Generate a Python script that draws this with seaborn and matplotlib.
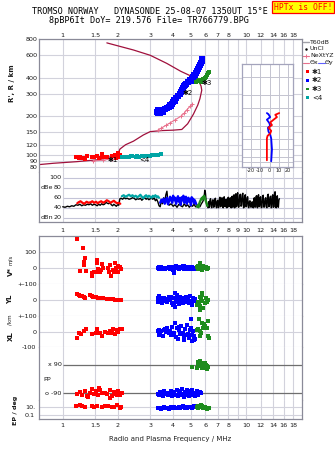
import matplotlib
matplotlib.use("Agg")
import matplotlib.pyplot as plt
import seaborn as sns
from matplotlib.ticker import NullLocator
from matplotlib.patches import Rectangle
import matplotlib.transforms as mtransforms

# ---------------- data ----------------
freq_ticks = [1, 1.5, 2, 3, 4, 5, 6, 7, 8, 9, 10, 12, 14, 16, 18]
freq_labels_top = ["1", "1.5", "2", "3", "4", "5", "6", "7", "8", "", "10", "12", "14", "16", "18"]
freq_labels_db = ["1", "1.5", "2", "3", "4", "5", "6", "7", "8", "9", "10", "12", "14", "16", "18"]
height_ticks = [80, 90, 100, 120, 150, 200, 300, 400, 600, 800]
tilt_ticks = [-20, -10, 0, 10, 20]

# electron density profile (plasma frequency MHz, height km)
profile = [(0.745, 84), (0.89, 86), (1.19, 88.5), (1.60, 92), (1.89, 98), (2.01, 103), (2.05, 111),
           (2.20, 120), (2.43, 128), (2.75, 143), (3.00, 152), (3.50, 155), (4.00, 156), (4.46, 158),
           (4.80, 175), (5.16, 208), (5.45, 245), (5.60, 275), (5.73, 320), (5.68, 345), (5.55, 370),
           (5.38, 392), (5.06, 410), (4.40, 450), (3.69, 519), (3.00, 600), (2.43, 660), (1.74, 750)]
nexyz_e = [(1.47, 89.6), (1.66, 91), (1.85, 93)]
nexyz_f = [(3.30, 156), (3.45, 162), (3.65, 170), (3.85, 178), (4.10, 188), (4.40, 200), (4.60, 212),
           (4.75, 225), (4.95, 240), (5.10, 250)]

# echoes: frequency MHz, virtual range km
echo1 = [(1.18, 95.7), (1.22, 93.9), (1.24, 96.9), (1.285, 95.1), (1.32, 93.3), (1.36, 98.1), (1.44, 95.7),
         (1.48, 96.9), (1.53, 98.1), (1.58, 95.1), (1.63, 101.6), (1.66, 96.9), (1.75, 96.9), (1.85, 98.1),
         (1.93, 99.8), (1.95, 93.9), (2.01, 101.6), (2.04, 96.9), (1.99, 104), (2.06, 100)]
echo4 = [(2.10, 97), (2.15, 96.5), (2.20, 96.5), (2.25, 97), (2.30, 97), (2.35, 97.5), (2.40, 97.5),
         (2.50, 97), (2.55, 97.5), (2.60, 97), (2.70, 98), (2.75, 97.5), (2.80, 98), (2.90, 98), (3.00, 98.5),
         (3.05, 99), (3.10, 99), (3.20, 99.5), (3.30, 100), (3.45, 102)]
echo2 = [(3.27, 216), (3.31, 212), (3.35, 212), (3.40, 212), (3.53, 216), (3.31, 224), (3.40, 224),
         (3.61, 228), (3.71, 232), (3.80, 237), (3.90, 241), (3.95, 250), (4.00, 259), (4.05, 268),
         (4.15, 278), (4.26, 288), (4.36, 299), (4.42, 310), (4.48, 321), (4.53, 333), (4.59, 345),
         (4.71, 358), (4.83, 371), (4.95, 385), (5.08, 392), (5.14, 406), (5.20, 421), (5.34, 436),
         (5.40, 452), (5.47, 469), (5.54, 486), (5.61, 504), (5.68, 522), (5.75, 541), (5.75, 561),
         (3.45, 218), (3.85, 245), (4.10, 262), (4.62, 350), (5.02, 380), (5.25, 400)]
echo3 = [(5.34, 371), (5.47, 378), (5.61, 378), (5.75, 385), (5.90, 392), (5.98, 399), (6.06, 406),
         (6.14, 421), (6.22, 436), (6.30, 444), (5.54, 385), (5.68, 371), (5.82, 392)]

# tilt inset (deg, km)
tilt1 = [(-2.8, 93), (-2.8, 152), (-2.1, 161), (0.7, 169), (1.8, 180), (-1.1, 193), (2.6, 205), (0.7, 217),
         (4.3, 231), (7.9, 245), (6.1, 258), (10.3, 268)]
tilt2 = [(1.8, 91), (2.6, 119), (1.8, 152), (0.7, 166), (-1.1, 177), (-1.7, 193), (0.7, 202), (-0.3, 215),
         (-2.8, 231), (0.7, 245), (-1.1, 261), (-2.8, 268)]

# amplitude panel (MHz, dB)
amp_all = [(1.00, 42), (1.03, 41), (1.06, 43), (1.09, 42), (1.12, 44), (1.15, 43), (1.18, 46), (1.21, 45),
           (1.24, 47), (1.27, 44), (1.30, 46), (1.33, 45), (1.36, 47), (1.39, 46), (1.42, 48), (1.45, 45),
           (1.48, 47), (1.51, 46), (1.54, 44), (1.57, 47), (1.60, 45), (1.63, 48), (1.66, 46), (1.69, 47),
           (1.72, 51), (1.75, 49), (1.78, 48), (1.81, 50), (1.84, 46), (1.87, 44), (1.90, 47), (1.93, 45),
           (1.96, 43), (1.99, 46), (2.02, 45), (2.05, 58), (2.08, 59), (2.12, 57), (2.16, 60), (2.20, 58),
           (2.25, 59), (2.30, 57), (2.35, 58), (2.40, 60), (2.45, 59), (2.50, 56), (2.55, 58), (2.60, 57),
           (2.65, 59), (2.70, 55), (2.75, 58), (2.80, 60), (2.85, 57), (2.90, 59), (2.95, 56), (3.00, 58),
           (3.05, 59), (3.10, 57), (3.15, 60), (3.20, 54), (3.25, 57), (3.30, 52), (3.35, 44), (3.40, 42),
           (3.45, 55), (3.50, 48), (3.55, 60), (3.60, 52), (3.65, 66), (3.70, 73), (3.75, 50), (3.80, 45),
           (3.90, 48), (4.00, 43), (4.10, 46), (4.20, 41), (4.30, 47), (4.40, 44), (4.50, 42), (4.60, 48),
           (4.70, 43), (4.80, 46), (4.90, 41), (5.00, 45), (5.10, 43), (5.20, 47), (5.30, 42), (5.40, 44),
           (5.50, 45), (5.60, 42), (5.70, 48), (5.80, 52), (5.90, 60), (5.95, 75), (6.00, 70), (6.05, 55),
           (6.10, 45), (6.20, 40), (6.25, 52), (6.30, 41), (6.35, 55), (6.40, 58), (6.45, 42), (6.50, 40),
           (6.55, 54), (6.60, 56), (6.65, 41), (6.70, 42), (6.75, 57), (6.80, 59), (6.85, 43), (6.90, 40),
           (6.95, 53), (7.00, 55), (7.05, 40), (7.10, 41), (7.15, 58), (7.20, 61), (7.25, 42), (7.30, 43),
           (7.35, 59), (7.40, 60), (7.45, 41), (7.50, 40), (7.55, 60), (7.60, 62), (7.65, 43), (7.70, 42),
           (7.75, 56), (7.80, 57), (7.85, 40), (7.90, 41), (7.95, 59), (8.00, 61), (8.05, 42), (8.10, 43),
           (8.15, 58), (8.20, 60), (8.25, 41), (8.30, 40), (8.35, 62), (8.40, 63), (8.45, 41), (8.50, 42),
           (8.55, 64), (8.60, 66), (8.65, 40), (8.70, 41), (8.75, 65), (8.80, 68), (8.85, 42), (8.90, 44),
           (8.95, 67), (9.00, 70), (9.08, 41), (9.15, 42), (9.22, 64), (9.30, 67), (9.38, 43), (9.45, 45),
           (9.52, 66), (9.60, 69), (9.68, 40), (9.75, 41), (9.82, 63), (9.90, 66), (9.98, 42), (10.05, 43),
           (10.12, 60), (10.20, 62), (10.28, 41), (10.35, 40), (10.42, 52), (10.50, 54), (10.58, 42),
           (10.65, 41), (10.72, 50), (10.80, 52), (10.88, 41), (10.95, 40), (11.02, 58), (11.10, 60),
           (11.18, 41), (11.25, 42), (11.32, 62), (11.40, 64), (11.48, 41), (11.55, 40), (11.62, 64),
           (11.70, 66), (11.78, 42), (11.85, 43), (11.92, 60), (12.00, 62), (12.10, 40), (12.20, 41),
           (12.30, 63), (12.40, 65), (12.50, 41), (12.60, 42), (12.70, 58), (12.80, 60), (12.90, 41),
           (13.00, 40), (13.10, 65), (13.20, 67), (13.30, 42), (13.40, 43), (13.50, 61), (13.60, 63),
           (13.70, 40), (13.80, 41), (13.90, 64), (14.00, 66), (14.10, 41), (14.20, 42), (14.30, 70),
           (14.40, 72), (14.50, 41), (14.60, 40), (14.70, 62), (14.80, 64), (14.90, 42), (15.00, 41),
           (15.10, 56), (15.20, 58)]
amp1 = [(1.20, 49), (1.22, 51), (1.25, 53), (1.28, 50), (1.31, 48), (1.35, 52), (1.38, 50), (1.42, 51),
        (1.45, 53), (1.48, 50), (1.52, 52), (1.55, 49), (1.58, 51), (1.62, 53), (1.66, 50), (1.70, 52),
        (1.74, 55), (1.78, 53), (1.82, 50), (1.86, 52), (1.90, 54), (1.94, 51), (1.98, 49), (2.02, 50),
        (2.06, 48)]
amp4 = [(2.10, 63), (2.15, 65), (2.20, 62), (2.25, 64), (2.30, 66), (2.35, 63), (2.40, 65), (2.45, 62),
        (2.50, 64), (2.55, 61), (2.60, 63), (2.65, 66), (2.70, 62), (2.75, 59), (2.80, 63), (2.85, 65),
        (2.90, 61), (2.95, 64), (3.00, 62), (3.05, 60), (3.10, 64), (3.15, 62), (3.20, 65), (3.25, 61),
        (3.30, 63), (3.35, 60)]
amp2 = [(3.40, 50), (3.45, 56), (3.50, 52), (3.55, 58), (3.60, 48), (3.65, 55), (3.70, 60), (3.75, 47),
        (3.80, 53), (3.85, 62), (3.90, 57), (3.95, 50), (4.00, 64), (4.05, 55), (4.10, 60), (4.15, 48),
        (4.20, 57), (4.25, 63), (4.30, 52), (4.35, 59), (4.40, 46), (4.45, 61), (4.50, 55), (4.55, 64),
        (4.60, 50), (4.65, 58), (4.70, 62), (4.75, 48), (4.80, 56), (4.85, 60), (4.90, 52), (4.95, 57),
        (5.00, 45), (5.05, 61), (5.10, 54), (5.15, 58), (5.20, 49), (5.25, 55), (5.30, 51), (5.35, 47)]
amp3 = [(5.40, 42), (5.45, 45), (5.50, 41), (5.55, 48), (5.60, 52), (5.65, 55), (5.70, 58), (5.75, 60),
        (5.80, 57), (5.85, 62), (5.90, 64), (5.95, 60), (6.00, 56), (6.05, 52), (6.10, 48), (6.15, 44)]

# Doppler velocity V* (m/s)
vel1 = [(1.20, 185), (1.285, 129), (1.32, 66), (1.30, 40), (1.30, 21), (1.24, -17), (1.34, -17), (1.44, -34),
        (1.44, -51), (1.53, 51), (1.54, 30), (1.52, -23), (1.48, -28), (1.55, -8), (1.63, 23), (1.66, 2),
        (1.62, -13), (1.77, -2), (1.81, 19), (1.79, -28), (1.83, -51), (1.93, 30), (1.95, -2), (1.91, -23),
        (1.99, 13), (2.06, 4), (2.09, -8), (2.00, -28), (1.87, -13), (1.60, -26)]
vel2 = [(3.30, 0), (3.33, -5), (3.36, 4), (3.40, -2), (3.45, 6), (3.50, -3), (3.55, 1), (3.60, -6), (3.66, 3),
        (3.72, -1), (3.78, 5), (3.84, -4), (3.90, 2), (3.96, 8), (4.02, -7), (4.08, 0), (4.14, 10), (4.20, -3),
        (4.26, 4), (4.32, -9), (4.38, 6), (4.44, -2), (4.50, 12), (4.56, -5), (4.62, 3), (4.68, -8), (4.74, 1),
        (4.80, 7), (4.86, -4), (4.92, 2), (4.98, -6), (5.04, 5), (5.10, -2), (5.16, 0), (5.22, 3), (5.28, -4),
        (4.06, -34), (4.60, 14), (3.50, -8), (4.00, -12)]
vel3 = [(5.40, 5), (5.45, -8), (5.50, 12), (5.55, 3), (5.60, 30), (5.62, 18), (5.65, -5), (5.70, 8),
        (5.75, -10), (5.80, 2), (5.85, 10), (5.90, -3), (5.95, 6), (6.00, 0), (6.05, 4), (6.10, -6),
        (6.15, 2), (6.20, -2)]

# YL location (km)
yl1 = [(1.20, 34), (1.22, 30), (1.24, 25), (1.28, 22), (1.30, 19), (1.32, 13), (1.40, 28), (1.44, 25),
       (1.46, 18), (1.52, 20), (1.55, 10), (1.58, 12), (1.63, 8), (1.66, 10), (1.75, 5), (1.79, 3),
       (1.83, 6), (1.88, 2), (1.93, 0), (1.97, -1), (2.01, 0), (2.05, -2), (2.09, -1)]
yl2 = [(3.30, 10), (3.32, -15), (3.35, 25), (3.38, -5), (3.42, 8), (3.46, -18), (3.50, 3), (3.55, 12),
       (3.60, -8), (3.66, 5), (3.72, -12), (3.78, 15), (3.84, -3), (3.90, 20), (3.96, -22), (4.02, 8),
       (4.06, -30), (4.10, 44), (4.14, -15), (4.18, 30), (4.22, -10), (4.26, 5), (4.30, -25), (4.36, 18),
       (4.42, -5), (4.48, 10), (4.54, -20), (4.60, 12), (4.66, -8), (4.72, 15), (4.78, -12), (4.84, 6),
       (4.90, -18), (4.96, 22), (5.02, -5), (5.08, -30), (5.14, 8), (5.20, -10), (5.26, 3), (4.12, -48),
       (4.00, -33)]
yl3 = [(5.73, 44), (5.60, 19), (5.49, -13), (5.60, -40), (5.84, -54), (6.15, -6), (6.23, 0), (5.38, -33),
       (5.60, -64), (5.73, 29), (5.66, 5), (5.95, -20), (6.05, 10), (5.52, -25), (5.78, -8), (6.10, -15)]

# XL location (km)
xl1 = [(1.20, -41), (1.22, -9), (1.30, 2), (1.34, 13), (1.44, -19), (1.53, 13), (1.52, -9), (1.60, -9),
       (1.63, -26), (1.77, -9), (1.81, 2), (1.89, 13), (1.97, 9), (2.05, 13), (2.10, 17), (1.93, -19),
       (1.26, -15), (1.70, -5), (1.85, -12), (2.00, -6)]
xl2 = [(3.30, 5), (3.33, -20), (3.36, 12), (3.40, -8), (3.45, 3), (3.50, -30), (3.55, 8), (3.60, 15),
       (3.66, -5), (3.72, 20), (3.78, -12), (3.84, 4), (3.90, -25), (3.96, 30), (4.02, -10), (4.08, 56),
       (4.14, -35), (4.20, 22), (4.26, -45), (4.32, 10), (4.38, -18), (4.44, 35), (4.50, -8), (4.56, -52),
       (4.62, 18), (4.68, -25), (4.74, 40), (4.80, -15), (4.86, -40), (4.92, 12), (4.98, 25), (5.04, -20),
       (5.10, -60), (5.16, 5), (5.22, -30), (5.28, -45), (4.05, -22), (4.30, 28), (4.60, -38), (5.02, 82),
       (5.20, -55), (3.35, -12)]
xl3 = [(5.55, 82), (5.73, 56), (6.23, 67), (5.98, 34), (5.49, 13), (5.84, 21), (5.60, -26), (6.31, -43),
       (6.23, -30), (5.60, 2), (5.90, 45), (6.10, 25), (5.40, 10), (5.66, -10)]

# polarization PP (deg)
pp1 = [(1.20, -95), (1.24, -85), (1.28, -100), (1.32, -75), (1.36, -110), (1.40, -90), (1.44, -65),
       (1.48, -95), (1.52, -80), (1.56, -105), (1.60, -70), (1.64, -92), (1.70, -88), (1.75, -98),
       (1.80, -72), (1.85, -110), (1.90, -85), (1.95, -95), (2.00, -78), (2.05, -100), (2.10, -90),
       (1.38, -118), (1.58, -60), (1.82, -120), (1.98, -105)]
pp2 = [(3.30, -95), (3.34, -105), (3.38, -85), (3.42, -100), (3.47, -90), (3.52, -110), (3.58, -80),
       (3.64, -98), (3.70, -88), (3.76, -102), (3.82, -92), (3.88, -75), (3.94, -108), (4.00, -95),
       (4.06, -85), (4.12, -100), (4.18, -70), (4.24, -112), (4.30, -90), (4.36, -80), (4.42, -105),
       (4.48, -65), (4.54, -95), (4.60, -118), (4.66, -85), (4.72, -100), (4.78, -72), (4.84, -92),
       (4.90, -108), (4.96, -80), (5.02, -98), (5.08, -68), (5.14, -102), (5.20, -88), (5.26, -110),
       (5.32, -95), (5.40, -78), (5.50, -100), (5.60, -85), (5.70, -92)]
pp3 = [(5.45, 88), (5.50, 105), (5.55, 95), (5.60, 110), (5.65, 80), (5.70, 98), (5.75, 72), (5.80, 92),
       (5.85, 85), (5.90, 70), (5.95, 100), (6.00, 78), (6.05, 90), (6.10, 65), (6.15, 82), (6.20, 75),
       (5.40, 70), (5.62, 112), (5.78, 96), (5.92, 88), (5.10, 73)]

# EP (deg)
ep1 = [(1.18, 15), (1.24, 21), (1.32, 10), (1.44, 12), (1.53, 17), (1.63, 10), (1.77, 15), (1.85, 7),
       (1.97, 21), (2.05, 5), (2.09, 10), (1.28, 12), (1.48, 9), (1.70, 14), (1.90, 11)]
ep2 = [(3.30, 4), (3.36, 6), (3.42, 3), (3.50, 5), (3.58, 8), (3.66, 4), (3.74, 6), (3.82, 3), (3.90, 7),
       (3.98, 5), (4.06, 9), (4.14, 4), (4.22, 6), (4.30, 10), (4.38, 5), (4.46, 7), (4.54, 12), (4.62, 6),
       (4.70, 8), (4.78, 5), (4.86, 11), (4.94, 7), (5.02, 9), (5.10, 6), (5.18, 12), (5.26, 8), (5.34, 10),
       (5.42, 7)]
ep3 = [(5.40, 8), (5.45, 12), (5.50, 6), (5.55, 15), (5.60, 10), (5.65, 20), (5.70, 7), (5.75, 12),
       (5.80, 9), (5.85, 5), (5.90, 11), (5.95, 6), (6.00, 8), (6.05, 4), (6.10, 6), (6.15, 3), (6.20, 5),
       (6.25, 4)]


def xy(pairs):
    return [p[0] for p in pairs], [p[1] for p in pairs]


# ---------------- styling ----------------
sns.set_theme(style="white")
plt.rcParams['font.family'] = ['DejaVu Sans']

W, H = 335, 451
GRID = '#d2d2dc'
FRAME = '#8a8a98'
TXT = '#1a1a1a'
RED = '#ff0000'
BLUE = '#0000ff'
GREEN = '#1e8c1e'
CYAN = '#00a5a5'
PROF = '#a0103c'
PINK = '#e8708c'
XMIN, XMAX = 0.745, 20.1
FS = 4.6

fig = plt.figure(figsize=(W / 100, H / 100), dpi=100)
fig.patch.set_facecolor('white')


def rect(l, t, r, b):
    return [l / W, 1 - b / H, (r - l) / W, (b - t) / H]


ov = fig.add_axes([0, 0, 1, 1])
ov.set_xlim(0, W)
ov.set_ylim(H, 0)
ov.axis('off')


def freq_axis(ax, labels=None, pad=2.0, top=False, hide=()):
    ax.set_xscale('log')
    ax.set_xticks(freq_ticks)
    ax.set_xticklabels(labels if labels is not None else [''] * len(freq_ticks))
    ax.xaxis.set_minor_locator(NullLocator())
    ax.tick_params(axis='both', length=0, labelsize=FS, colors=TXT, pad=pad)
    if top:
        ax.xaxis.tick_top()
    ax.grid(True, axis='x', color=GRID, lw=0.8)
    ax.set_axisbelow(True)
    ax.set_facecolor('white')
    for name, s in ax.spines.items():
        s.set_color(FRAME)
        s.set_linewidth(0.9)
        s.set_visible(name not in hide)
    ax.set_xlabel('')
    ax.set_ylabel('')


def pts(ax, pairs, color, s=4):
    x, y = xy(pairs)
    sns.scatterplot(x=x, y=y, ax=ax, color=color, marker='s', s=s, linewidth=0, legend=False, zorder=3)


def line(ax, pairs, color, lw=1.0, **kw):
    x, y = xy(pairs)
    sns.lineplot(x=x, y=y, ax=ax, color=color, lw=lw, sort=False, estimator=None, legend=False, **kw)


# ---------------- main height panel ----------------
axM = fig.add_axes(rect(39.3, 39.3, 301.7, 172))
axM.set_yscale('log')
line(axM, profile, PROF, lw=0.9, zorder=2)
line(axM, nexyz_e, PINK, lw=0.8, marker='+', markersize=3, markeredgewidth=0.7, mec=PINK)
line(axM, nexyz_f, PINK, lw=0.8, marker='+', markersize=3, markeredgewidth=0.7, mec=PINK)
pts(axM, echo1, RED, s=5)
pts(axM, echo4, CYAN, s=5)
pts(axM, echo2, BLUE, s=15)
pts(axM, echo3, GREEN, s=11)
freq_axis(axM, freq_labels_top, pad=1.2, top=True, hide=('bottom',))
axM.set_yticks(height_ticks)
axM.set_yticklabels([str(v) for v in height_ticks])
axM.yaxis.set_minor_locator(NullLocator())
axM.grid(True, axis='y', color=GRID, lw=0.8)
axM.set_xlim(XMIN, XMAX)
axM.set_ylim(73.5, 800)
for lab, (fx, hy) in zip(["\u27311", "<4", "\u27312", "\u27313"],
                         [(1.75, 92), (2.62, 91), (4.52, 306), (5.75, 366)]):
    axM.text(fx, hy, lab, fontsize=5, color='black', ha='left', va='center', zorder=5)

# ---------------- tilt inset ----------------
axI = fig.add_axes(rect(242, 64.3, 293, 167))
axI.set_yscale('log')
line(axI, tilt2, BLUE, lw=1.3)
line(axI, tilt1, RED, lw=1.3)
axI.set_xlim(-29.3, 25)
axI.set_ylim(80.4, 510)
axI.set_xticks(tilt_ticks)
axI.set_xticklabels([str(t) for t in tilt_ticks])
axI.set_yticks(height_ticks)
axI.set_yticklabels([])
axI.yaxis.set_minor_locator(NullLocator())
axI.tick_params(axis='both', length=0, labelsize=3.6, colors=TXT, pad=1)
axI.grid(True, color='#c4c4d0', lw=0.7)
axI.set_axisbelow(True)
axI.set_facecolor('white')
for s in axI.spines.values():
    s.set_color('#a4a4bc')
    s.set_linewidth(0.9)
axI.set_xlabel('Tilt / deg', fontsize=3.6, labelpad=0.5, color=TXT)
axI.set_ylabel('')

# ---------------- amplitude panel ----------------
axD = fig.add_axes(rect(39.3, 172, 301.7, 222.3))
line(axD, amp_all, 'black', lw=1.0)
line(axD, amp1, RED, lw=1.6)
line(axD, amp4, CYAN, lw=1.6)
line(axD, amp2, BLUE, lw=1.7)
line(axD, amp3, GREEN, lw=1.7)
freq_axis(axD, freq_labels_db, pad=4.0, hide=('top',))
axD.set_yticks([])
axD.hlines([100, 80, 60, 40, 20], 1.0, XMAX, color='#c4c4d8', lw=0.8, zorder=0)
axD.set_xlim(XMIN, XMAX)
axD.set_ylim(11, 111.4)
tb = mtransforms.blended_transform_factory(axD.transAxes, axD.transData)
for v in [100, 80, 60, 40, 20]:
    axD.text(0.085, v, str(v), transform=tb, fontsize=FS, ha='right', va='center', color=TXT)
axD.text(0.004, 80, 'dBe', transform=tb, fontsize=FS, ha='left', va='center', color=TXT)
axD.text(0.004, 20, 'dBn', transform=tb, fontsize=FS, ha='left', va='center', color=TXT)

# ---------------- lower parameter panels ----------------
axV = fig.add_axes(rect(39.3, 236, 301.7, 283.7))
pts(axV, vel1, RED, s=5)
pts(axV, vel2, BLUE, s=7)
pts(axV, vel3, GREEN, s=6)
freq_axis(axV, hide=('bottom',))
axV.set_ylim(-100, 204)
axV.set_yticks([100, 0, -100])
axV.set_yticklabels(['100', '0', '+-100'])
axV.grid(True, axis='y', color=GRID, lw=0.8)

axY = fig.add_axes(rect(39.3, 283.7, 301.7, 315.8))
pts(axY, yl1, RED, s=5)
pts(axY, yl2, BLUE, s=7)
pts(axY, yl3, GREEN, s=6)
freq_axis(axY, hide=('top', 'bottom'))
axY.set_ylim(-100, 100)
axY.set_yticks([0, -100])
axY.set_yticklabels(['0', '+-100'])
axY.grid(True, axis='y', color=GRID, lw=0.8)

axX = fig.add_axes(rect(39.3, 315.8, 301.7, 347.2))
pts(axX, xl1, RED, s=5)
pts(axX, xl2, BLUE, s=7)
pts(axX, xl3, GREEN, s=6)
freq_axis(axX, hide=('top', 'bottom'))
axX.set_ylim(-100, 100)
axX.set_yticks([0, -100])
axX.set_yticklabels(['0', '-100'])
axX.grid(True, axis='y', color=GRID, lw=0.8)

axP = fig.add_axes(rect(39.3, 347.2, 301.7, 400))
pts(axP, pp1, RED, s=6)
pts(axP, pp2, BLUE, s=9)
pts(axP, pp3, GREEN, s=7)
freq_axis(axP, hide=('top', 'bottom'))
axP.set_ylim(-134.5, 201.3)
axP.set_yticks([])
axP.hlines([90, -90], 1.0, XMAX, color='#6e6e6e', lw=0.9, zorder=1)
tp = mtransforms.blended_transform_factory(axP.transAxes, axP.transData)
axP.text(0.085, 90, 'x 90', transform=tp, fontsize=FS, ha='right', va='center', color=TXT)
axP.text(0.085, -90, 'o -90', transform=tp, fontsize=FS, ha='right', va='center', color=TXT)
axP.text(0.014, -5, 'PP', transform=tp, fontsize=FS, ha='left', va='center', color=TXT)

axE = fig.add_axes(rect(39.3, 400, 301.7, 419))
axE.set_yscale('log')
pts(axE, ep1, RED, s=5)
pts(axE, ep2, BLUE, s=7)
pts(axE, ep3, GREEN, s=6)
freq_axis(axE, freq_labels_top, pad=3.0, hide=('top',))
axE.set_ylim(0.01086, 411)
axE.set_yticks([10, 0.1])
axE.set_yticklabels(['10.', '0.1'])
axE.yaxis.set_minor_locator(NullLocator())
axE.grid(True, axis='y', color=GRID, lw=0.8)

for ax in (axV, axY, axX, axP, axE):
    ax.set_xlim(XMIN, XMAX)

# ---------------- annotations (figure pixel overlay) ----------------
mono = 'DejaVu Sans Mono'
ov.text(150, 12, "TROMSO NORWAY   DYNASONDE 25-08-07 1350UT 15\u00b0E", family=mono, fontsize=6.1,
        ha='center', va='center', color='black')
ov.text(149, 20.5, "8pBP6It DoY= 219.576 File= TR766779.BPG", family=mono, fontsize=6.1,
        ha='center', va='center', color='black')
ov.add_patch(Rectangle((272, 1), 62, 11.5, facecolor='#ffff00', edgecolor='#ff0000', lw=0.9))
ov.text(303, 7, "HPTx is OFF!", family=mono, fontsize=5.8, ha='center', va='center', color='#ff0000')

ov.text(12, 83, "R', R / km", rotation=90, fontsize=5, fontweight='bold', ha='center', va='center', color=TXT)
ov.text(10.5, 271, "V*", rotation=90, fontsize=5, fontweight='bold', ha='center', va='center', color=TXT)
ov.text(10.5, 260, "m/s", rotation=90, fontsize=4, ha='center', va='center', color=TXT)
ov.text(10.5, 299, "YL", rotation=90, fontsize=5, fontweight='bold', ha='center', va='center', color=TXT)
ov.text(10.5, 320, "/km", rotation=90, fontsize=4, ha='center', va='center', color=TXT)
ov.text(10.5, 336, "XL", rotation=90, fontsize=5, fontweight='bold', ha='center', va='center', color=TXT)
ov.text(15.5, 410, "EP / deg", rotation=90, fontsize=4.6, fontweight='bold', ha='center', va='center', color=TXT)
ov.text(170, 439, "Radio and Plasma Frequency / MHz", fontsize=5, ha='center', va='center', color='#222222')

# legend
leg_fs = 4.5
ov.plot([303, 309], [42.3, 42.3], color='#a0a0a8', lw=1.0)
ov.text(310, 42.3, "T60dB", fontsize=leg_fs, ha='left', va='center', color=TXT)
ov.plot([306], [48.7], marker='.', color='black', markersize=1.5)
ov.text(310, 48.7, "UnCl", fontsize=leg_fs, ha='left', va='center', color=TXT)
ov.plot([302, 309], [55.7, 55.7], color=PINK, lw=0.8)
ov.plot([305.5], [55.7], marker='+', color=PINK, markersize=3, mew=0.7)
ov.text(310, 55.7, "NeXtYZ", fontsize=leg_fs, ha='left', va='center', color=TXT)
ov.plot([303, 309], [62.7, 62.7], color=PINK, lw=0.8)
ov.text(310, 62.7, "\u0398x", fontsize=leg_fs, ha='left', va='center', color=TXT)
ov.plot([318, 325], [62.7, 62.7], color='#6060ff', lw=0.8)
ov.text(325, 62.7, "\u0398y", fontsize=leg_fs, ha='left', va='center', color=TXT)
for yy, col, lab in [(71.7, RED, "\u27311"), (80.3, BLUE, "\u27312"), (89, GREEN, "\u27313"), (97.7, CYAN, "<4")]:
    ov.add_patch(Rectangle((306, yy - 1.3), 2.6, 2.6, facecolor=col, edgecolor='none'))
    ov.text(312, yy, lab, fontsize=5, ha='left', va='center', color=TXT)

fig.savefig("out.png", dpi=100, facecolor='white')
